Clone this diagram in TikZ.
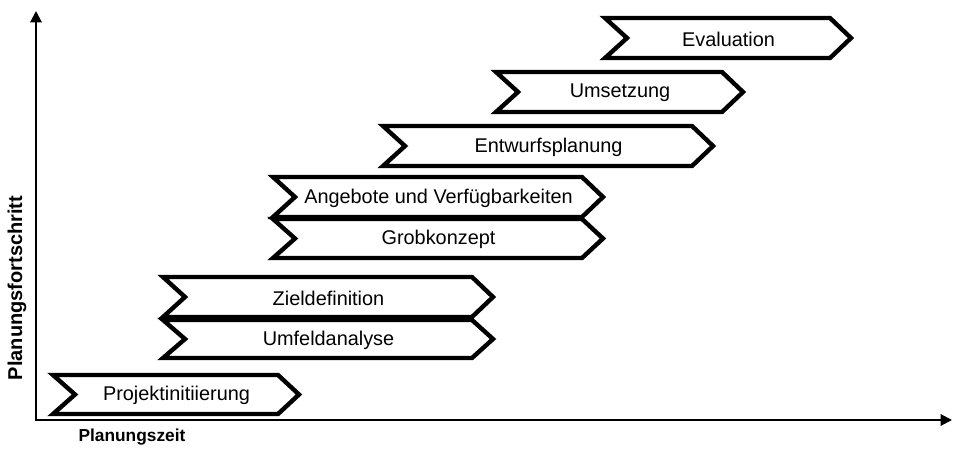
\documentclass[tikz,border=0pt]{standalone}
\usepackage{fontspec}
\setmainfont{Liberation Sans}
\usetikzlibrary{arrows.meta}

\tikzset{
  phase/.style={draw=black, line width=3.3pt, fill=white, line join=miter},
  phaselabel/.style={font=\fontsize{14.9}{17}\selectfont, inner sep=0pt},
  axisline/.style={line width=1.5pt,
    {Triangle[length=8.5pt,width=8.5pt]}-{Triangle[length=8.5pt,width=8.5pt]}},
  axislabel/.style={font=\fontsize{13}{15}\selectfont\bfseries, inner sep=0pt}
}

% #1 name, #2 left x, #3 right x, #4 top y, #5 bottom y, #6 text
\newcommand\phasestep[6]{%
  \draw[phase] (#2,#4) -- (#3-21,#4) -- (#3,{(#4+#5)/2}) -- (#3-21,#5)
    -- (#2,#5) -- (#2+22,{(#4+#5)/2}) -- cycle;
  \node[phaselabel] (#1) at ({(#2+#3+1)/2},{(#4+#5)/2+1}) {#6};
}

\begin{document}
\begin{tikzpicture}[x=0.75pt, y=-0.75pt]
  \useasboundingbox (0,0) rectangle (953,451);

  % axes
  \coordinate (origin) at (36,420);
  \coordinate (ytip) at (36,11);
  \coordinate (xtip) at (952,420);
  \draw[axisline] (ytip) -- (origin) -- (xtip);

  \node[axislabel] (xlabel) at (132,437) {Planungszeit};
  \node[axislabel, font=\fontsize{15}{17}\selectfont\bfseries, rotate=90]
    (ylabel) at (17,288) {Planungsfortschritt};

  % planning phases
  \phasestep{p1}{53}{299}{375}{414}{Projektinitiierung}
  \phasestep{p3}{163}{493}{277}{317}{Zieldefinition}
  \phasestep{p2}{163}{493}{320}{358}{Umfeldanalyse}
  \phasestep{p5}{273}{603}{177}{217}{Angebote und Verfügbarkeiten}
  \phasestep{p4}{273}{603}{219}{258}{Grobkonzept}
  \phasestep{p6}{383}{713}{126}{166}{Entwurfsplanung}
  \phasestep{p7}{496}{743}{72}{112}{Umsetzung}
  \phasestep{p8}{605}{851}{18}{58}{Evaluation}
\end{tikzpicture}
\end{document}
